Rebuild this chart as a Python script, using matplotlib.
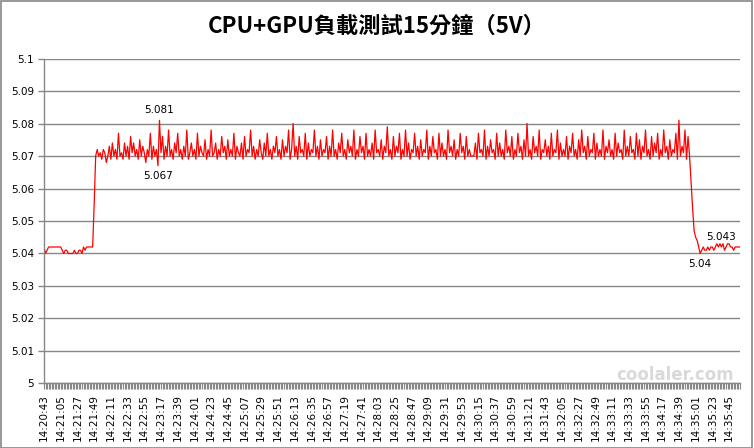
import numpy as np
import matplotlib
matplotlib.use("Agg")
import matplotlib.pyplot as plt
from matplotlib.patches import Rectangle

plt.rcParams['font.family'] = ['DejaVu Sans', 'Noto Sans CJK TC']

# --- data: voltage readings in mV, one every 2 s starting 14:20:43 ---
idle_before = [5042, 5040, 5041, 5042, 5042, 5042, 5042, 5042, 5042, 5042,
               5042, 5042, 5041, 5040, 5041, 5041, 5040, 5040, 5040, 5040,
               5041, 5040, 5040, 5041, 5041, 5040, 5042, 5041, 5042, 5042,
               5042, 5042, 5042, 5055, 5070]

load = [5072, 5070, 5071, 5069, 5072, 5071, 5068, 5070, 5073, 5069,
        5074, 5070, 5072, 5069, 5077, 5070, 5071, 5069, 5074, 5070,
        5073, 5069, 5076, 5071, 5074, 5070, 5072, 5069, 5075, 5070,
        5073, 5071, 5068, 5072, 5070, 5077, 5069, 5073, 5070, 5072,
        5067, 5081, 5071, 5076, 5069, 5073, 5070, 5078, 5070, 5072,
        5069, 5074, 5071, 5077, 5070, 5072, 5069, 5073, 5070, 5078,
        5069, 5071, 5074, 5070, 5072, 5069, 5077, 5070, 5073, 5071,
        5070, 5075, 5069, 5072, 5070, 5078, 5070, 5071, 5074, 5069,
        5072, 5070, 5076, 5071, 5073, 5069, 5075, 5070, 5072, 5070,
        5077, 5069, 5073, 5071, 5070, 5074, 5069, 5076, 5070, 5072,
        5071, 5078, 5070, 5073, 5069, 5072, 5070, 5075, 5071, 5069,
        5074, 5070, 5077, 5070, 5072, 5069, 5073, 5071, 5076, 5070,
        5072, 5069, 5075, 5070, 5073, 5071, 5078, 5069, 5072, 5080,
        5070, 5073, 5069, 5076, 5071, 5072, 5070, 5077, 5069, 5074,
        5070, 5072, 5071, 5078, 5070, 5073, 5069, 5075, 5070, 5072,
        5071, 5076, 5069, 5073, 5070, 5078, 5070, 5072, 5069, 5074,
        5071, 5077, 5070, 5072, 5069, 5075, 5071, 5073, 5070, 5078,
        5069, 5072, 5070, 5076, 5071, 5073, 5069, 5077, 5070, 5072,
        5070, 5074, 5069, 5078, 5071, 5072, 5070, 5075, 5069, 5073,
        5071, 5079, 5070, 5072, 5069, 5076, 5070, 5073, 5071, 5077,
        5069, 5072, 5070, 5078, 5070, 5074, 5069, 5072, 5071, 5077,
        5070, 5073, 5069, 5075, 5070, 5072, 5071, 5078, 5069, 5073,
        5070, 5076, 5071, 5072, 5069, 5077, 5070, 5074, 5070, 5072,
        5069, 5078, 5071, 5073, 5070, 5075, 5069, 5072, 5070, 5077,
        5071, 5073, 5069, 5076, 5070, 5072, 5070, 5070, 5070, 5074,
        5069, 5077, 5071, 5072, 5070, 5078, 5069, 5073, 5070, 5075,
        5071, 5072, 5069, 5077, 5070, 5074, 5070, 5072, 5069, 5078,
        5071, 5073, 5070, 5076, 5069, 5072, 5070, 5077, 5071, 5073,
        5069, 5075, 5070, 5080, 5070, 5072, 5069, 5076, 5071, 5073,
        5070, 5078, 5069, 5072, 5071, 5075, 5070, 5073, 5069, 5077,
        5070, 5072, 5071, 5078, 5069, 5074, 5070, 5072, 5070, 5076,
        5069, 5073, 5071, 5077, 5070, 5072, 5069, 5075, 5070, 5078,
        5071, 5073, 5069, 5076, 5070, 5072, 5071, 5077, 5069, 5074,
        5070, 5072, 5070, 5078, 5069, 5073, 5071, 5075, 5070, 5072,
        5069, 5077, 5070, 5074, 5071, 5072, 5069, 5078, 5070, 5073,
        5070, 5076, 5071, 5072, 5069, 5077, 5070, 5075, 5069, 5073,
        5071, 5078, 5070, 5072, 5069, 5076, 5070, 5074, 5071, 5077,
        5069, 5072, 5070, 5078, 5071, 5073, 5069, 5075, 5070, 5072,
        5071, 5077, 5069, 5081, 5070, 5073, 5071, 5078, 5069, 5076,
        5070]

idle_after = [5062, 5054, 5047, 5045, 5044, 5042, 5040,
              5041, 5042, 5041, 5041, 5042, 5041, 5042, 5042, 5041, 5042,
              5043, 5042, 5043, 5042, 5043, 5041, 5042, 5043, 5043, 5042,
              5042, 5041, 5042, 5042, 5042, 5042]

time_labels = ["14:20:43", "14:21:05", "14:21:27", "14:21:49", "14:22:11", "14:22:33",
               "14:22:55", "14:23:17", "14:23:39", "14:24:01", "14:24:23", "14:24:45",
               "14:25:07", "14:25:29", "14:25:51", "14:26:13", "14:26:35", "14:26:57",
               "14:27:19", "14:27:41", "14:28:03", "14:28:25", "14:28:47", "14:29:09",
               "14:29:31", "14:29:53", "14:30:15", "14:30:37", "14:30:59", "14:31:21",
               "14:31:43", "14:32:05", "14:32:27", "14:32:49", "14:33:11", "14:33:33",
               "14:33:55", "14:34:17", "14:34:39", "14:35:01", "14:35:23", "14:35:45"]

# labelled points: sample index, text, above(+)/below(-)
label_idx = [76, 75, 432, 446]
label_txt = ["5.081", "5.067", "5.04", "5.043"]
label_pos = [1, -1, -1, 1]

volts = np.array(idle_before + load + idle_after) / 1000.0
n = len(volts)
x = np.arange(n)

# --- figure ---
fig = plt.figure(figsize=(7.54, 4.48), dpi=100)
ax = fig.add_axes([0.0584, 0.144, 0.9226, 0.7254])

fig.patches.append(Rectangle((0.001, 0.001), 0.997, 0.996, transform=fig.transFigure,
                             fill=False, edgecolor='#868686', linewidth=1.2))

ax.plot(x, volts, color='#FF0000', linewidth=0.9)

ax.set_xlim(0, n - 1)
ax.set_ylim(5.0, 5.1)
yt = np.arange(0, 11) / 100 + 5.0
ax.set_yticks(yt)
ax.set_yticklabels(["5", "5.01", "5.02", "5.03", "5.04", "5.05", "5.06",
                    "5.07", "5.08", "5.09", "5.1"])
ax.yaxis.grid(True, color='#878787', linewidth=1.0)
ax.set_axisbelow(True)

ax.set_xticks(np.arange(len(time_labels)) * 11)
ax.set_xticklabels(time_labels, rotation=90)
ax.set_xticks(x, minor=True)

for s in ['top', 'right']:
    ax.spines[s].set_visible(False)
for s in ['left', 'bottom']:
    ax.spines[s].set_color('#878787')
    ax.spines[s].set_linewidth(1.0)

ax.tick_params(axis='both', which='both', colors='#878787', labelcolor='black',
               labelsize=7.5, direction='out')
ax.tick_params(axis='x', which='both', length=4, width=0.8)
ax.tick_params(axis='y', length=4, width=1.0, pad=3)

for i, t, p in zip(label_idx, label_txt, label_pos):
    ax.annotate(t, (x[i], volts[i]), xytext=(0, 7.5 * p), textcoords='offset points',
                ha='center', va='center', fontsize=7.5)

fig.text(0.5, 0.942, "CPU+GPU負載測試15分鐘（5V）", ha='center', va='center',
         fontsize=16, fontweight='bold', family=['Noto Sans CJK TC', 'DejaVu Sans'])

# watermark
fig.text(0.895, 0.163, "coolaler.com", ha='center', va='center', fontsize=12,
         fontweight='bold', color='#d0d0d0', alpha=0.8)

fig.savefig("out.png", dpi=100)
